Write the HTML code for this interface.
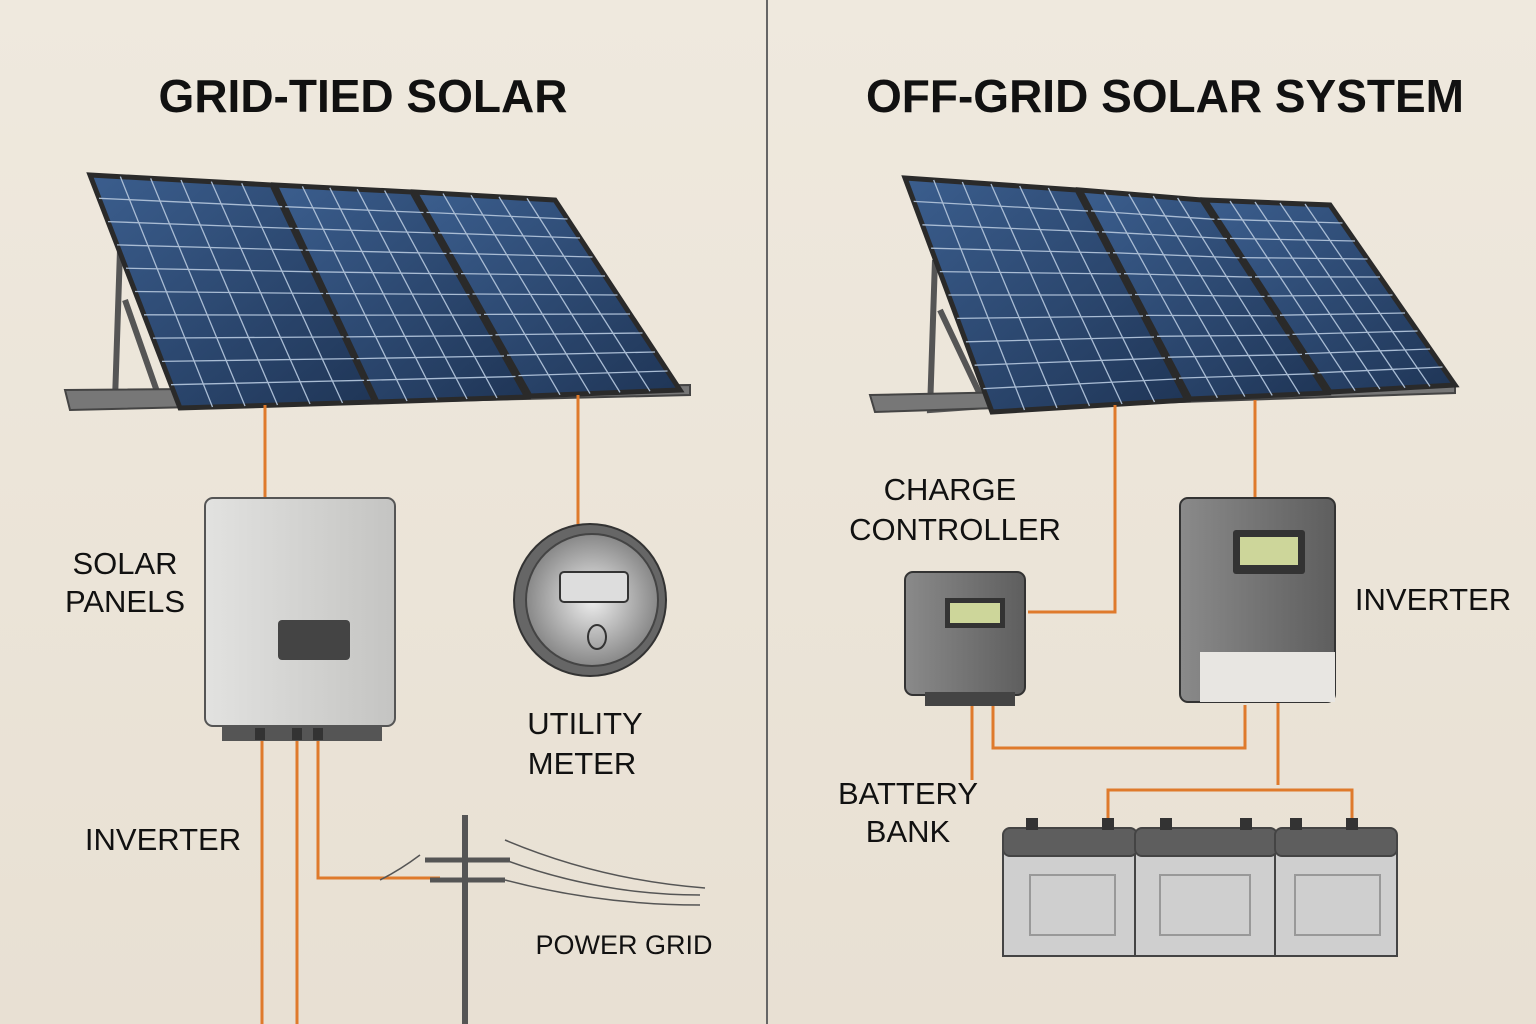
<!DOCTYPE html>
<html><head><meta charset="utf-8"><style>
html,body{margin:0;padding:0;background:#ece5d9;}
svg{display:block}
text{font-family:"Liberation Sans",sans-serif;fill:#111}
</style></head><body>
<svg id="s" width="1536" height="1024" viewBox="0 0 1536 1024" xmlns="http://www.w3.org/2000/svg">
<defs>
<linearGradient id="bg" x1="0" x2="0" y1="0" y2="1"><stop offset="0" stop-color="#efe9de"/><stop offset="1" stop-color="#e8e0d3"/></linearGradient>
<linearGradient id="pn" x1="0" x2="1" y1="0" y2="1"><stop offset="0" stop-color="#3b5e8e"/><stop offset="1" stop-color="#1f3556"/></linearGradient>
<linearGradient id="box" x1="0" x2="1"><stop offset="0" stop-color="#e2e2e0"/><stop offset="1" stop-color="#c4c4c2"/></linearGradient>
<linearGradient id="dbox" x1="0" x2="1"><stop offset="0" stop-color="#8a8a8a"/><stop offset="1" stop-color="#5e5e5e"/></linearGradient>
<radialGradient id="mt"><stop offset="0" stop-color="#eee"/><stop offset="1" stop-color="#888"/></radialGradient>
</defs>
<rect width="1536" height="1024" fill="url(#bg)"/>
<line x1="767" y1="0" x2="767" y2="1024" stroke="#666" stroke-width="2"/>

<text x="363" y="112" font-size="46" font-weight="bold" text-anchor="middle">GRID-TIED SOLAR</text>
<text x="1165" y="112" font-size="46" font-weight="bold" text-anchor="middle">OFF-GRID SOLAR SYSTEM</text>

<g stroke="#555" stroke-width="6" fill="none">
<path d="M120 250 L115 400 L180 395 M125 300 L160 400 M115 400 L70 405"/>
<path d="M65 390 L690 385 L690 395 L70 410 Z" fill="#777" stroke="#444" stroke-width="2"/>
<path d="M935 260 L930 410 L1000 405 M940 310 L985 405"/>
<path d="M870 395 L1455 383 L1455 393 L875 412 Z" fill="#777" stroke="#444" stroke-width="2"/>
</g>
<g id="panels"></g>

<g stroke="#df7a2c" stroke-width="3" fill="none">
<path d="M265 405 V500"/><path d="M578 395 V560"/>
<path d="M262 735 V1024"/><path d="M297 735 V1024"/>
<path d="M318 735 V878 H440"/>
<path d="M1115 405 V612 H1028"/><path d="M1255 400 V500"/>
<path d="M972 700 V780"/><path d="M993 700 V748 H1245 V705"/>
<path d="M1278 702 V785 M1108 820 V790 H1352 V820"/>
</g>

<rect x="205" y="498" width="190" height="228" rx="8" fill="url(#box)" stroke="#555" stroke-width="2"/>
<rect x="278" y="620" width="72" height="40" rx="4" fill="#444"/>
<rect x="222" y="725" width="160" height="16" fill="#555"/>
<g fill="#333"><rect x="255" y="728" width="10" height="12"/><rect x="292" y="728" width="10" height="12"/><rect x="313" y="728" width="10" height="12"/></g>

<circle cx="590" cy="600" r="76" fill="#666" stroke="#333" stroke-width="2"/>
<circle cx="592" cy="600" r="66" fill="url(#mt)" stroke="#444" stroke-width="2"/>
<rect x="560" y="572" width="68" height="30" rx="4" fill="#ddd" stroke="#333" stroke-width="2"/>
<ellipse cx="597" cy="637" rx="9" ry="12" fill="none" stroke="#333" stroke-width="2"/>

<g stroke="#555" stroke-width="6" fill="none">
<path d="M465 815 V1024"/><path d="M425 860 H510 M430 880 H505" stroke-width="5"/>
</g>
<g stroke="#555" stroke-width="1.5" fill="none">
<path d="M505 840 Q600 880 705 888"/><path d="M505 860 Q600 895 700 895"/><path d="M505 880 Q600 905 700 905"/><path d="M420 855 Q400 870 380 880"/>
</g>

<rect x="905" y="572" width="120" height="123" rx="8" fill="url(#dbox)" stroke="#333" stroke-width="2"/>
<rect x="945" y="598" width="60" height="30" fill="#333"/><rect x="950" y="603" width="50" height="20" fill="#cdd69a"/>
<rect x="925" y="692" width="90" height="14" fill="#444"/>

<rect x="1180" y="498" width="155" height="204" rx="8" fill="url(#dbox)" stroke="#333" stroke-width="2"/>
<rect x="1200" y="652" width="135" height="50" fill="#e8e6e2"/>
<rect x="1233" y="530" width="72" height="44" rx="3" fill="#333"/><rect x="1240" y="537" width="58" height="28" fill="#cdd69a"/>

<g stroke="#444" stroke-width="2">
<rect x="1003" y="850" width="132" height="106" fill="#cfcfcf"/>
<rect x="1135" y="850" width="140" height="106" fill="#cfcfcf"/>
<rect x="1275" y="850" width="122" height="106" fill="#cfcfcf"/>
<rect x="1003" y="828" width="134" height="28" rx="7" fill="#5e5e5e"/>
<rect x="1135" y="828" width="142" height="28" rx="7" fill="#5e5e5e"/>
<rect x="1275" y="828" width="122" height="28" rx="7" fill="#5e5e5e"/>
<rect x="1030" y="875" width="85" height="60" fill="none" stroke="#999"/>
<rect x="1160" y="875" width="90" height="60" fill="none" stroke="#999"/>
<rect x="1295" y="875" width="85" height="60" fill="none" stroke="#999"/>
</g>
<g fill="#333"><rect x="1102" y="818" width="12" height="12"/><rect x="1026" y="818" width="12" height="12"/><rect x="1160" y="818" width="12" height="12"/><rect x="1240" y="818" width="12" height="12"/><rect x="1290" y="818" width="12" height="12"/><rect x="1346" y="818" width="12" height="12"/></g>

<g font-size="31">
<text x="125" y="574" text-anchor="middle">SOLAR</text><text x="125" y="612" text-anchor="middle">PANELS</text>
<text x="585" y="734" text-anchor="middle">UTILITY</text><text x="582" y="774" text-anchor="middle">METER</text>
<text x="163" y="850" text-anchor="middle">INVERTER</text>
<text x="624" y="954" text-anchor="middle" font-size="27">POWER GRID</text>
<text x="950" y="500" text-anchor="middle">CHARGE</text><text x="955" y="540" text-anchor="middle">CONTROLLER</text>
<text x="1433" y="610" text-anchor="middle">INVERTER</text>
<text x="908" y="804" text-anchor="middle">BATTERY</text><text x="908" y="842" text-anchor="middle">BANK</text>
</g>
</svg>
<script>
var NS="http://www.w3.org/2000/svg",g=document.getElementById("panels");
function L(a,b,t){return [a[0]+(b[0]-a[0])*t,a[1]+(b[1]-a[1])*t];}
function panel(tl,tr,br,bl,cols,rows){
 var p=document.createElementNS(NS,"polygon");
 p.setAttribute("points",[tl,tr,br,bl].map(function(q){return q.join(",")}).join(" "));
 p.setAttribute("fill","url(#pn)");p.setAttribute("stroke","#2a2a2a");p.setAttribute("stroke-width","5");g.appendChild(p);
 function ln(a,b){var l=document.createElementNS(NS,"line");l.setAttribute("x1",a[0]);l.setAttribute("y1",a[1]);l.setAttribute("x2",b[0]);l.setAttribute("y2",b[1]);l.setAttribute("stroke","#a9bcd4");l.setAttribute("stroke-width","1.3");g.appendChild(l);}
 for(var i=1;i<cols;i++)ln(L(tl,tr,i/cols),L(bl,br,i/cols));
 for(var j=1;j<rows;j++)ln(L(tl,bl,j/rows),L(tr,br,j/rows));
}
panel([90,175],[272,185],[375,402],[180,408],6,10);
panel([275,185],[412,192],[527,397],[377,402],5,10);
panel([415,192],[555,200],[680,390],[530,396],5,10);
panel([905,178],[1077,190],[1187,400],[992,412],6,10);
panel([1080,190],[1202,200],[1327,393],[1190,399],5,10);
panel([1205,200],[1330,205],[1455,385],[1330,392],5,10);
</script>
</body></html>
